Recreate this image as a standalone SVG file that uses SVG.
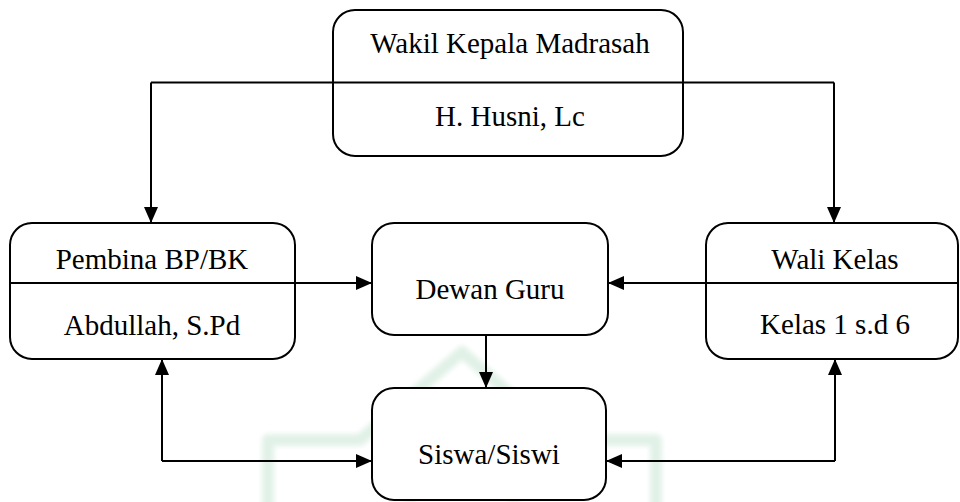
<svg xmlns="http://www.w3.org/2000/svg" width="960" height="502" viewBox="0 0 960 502">
<defs>
<marker id="arr" viewBox="0 0 16 14" refX="16" refY="7" markerWidth="16" markerHeight="14" markerUnits="userSpaceOnUse" orient="auto">
<path d="M0,0 L16,7 L0,14 Z" fill="#000"/>
</marker>
<filter id="soft" x="-10%" y="-10%" width="120%" height="120%">
<feGaussianBlur stdDeviation="2.5"/>
</filter>
</defs>
<style>
.box{fill:#fff;stroke:#000;stroke-width:2}
.ln{fill:none;stroke:#000;stroke-width:2}
text{font-family:'Liberation Serif',serif;font-size:29px;fill:#000;text-anchor:middle}
.wm{fill:none;stroke:#dcefe3;stroke-width:12;stroke-linejoin:round}
</style>
<rect width="960" height="502" fill="#fff"/>
<g id="watermark" filter="url(#soft)" opacity="0.85">
<path class="wm" d="M268,520 L268,440 L360,440 L462,352 L562,440 L656,440 L656,520"/>
<path class="wm" d="M410,520 L410,470 Q420,445 462,425 Q504,445 514,470 L514,520" opacity="0.6"/>
</g>
<g font-family="Liberation Serif, serif">
<g id="n-wakil">
<rect class="box" x="333" y="10" width="350" height="146" rx="22"/>
<text x="510" y="53">Wakil Kepala Madrasah</text>
<text x="510" y="126">H. Husni, Lc</text>
</g>
<g id="n-pembina">
<rect class="box" x="10" y="223" width="285" height="136" rx="22"/>
<text x="152" y="269">Pembina BP/BK</text>
<text x="152" y="335">Abdullah, S.Pd</text>
</g>
<g id="n-dewan">
<rect class="box" x="372" y="223" width="236" height="112" rx="22"/>
<text x="490" y="299">Dewan Guru</text>
</g>
<g id="n-wali">
<rect class="box" x="706" y="223" width="252" height="136" rx="22"/>
<text x="835" y="269">Wali Kelas</text>
<text x="835" y="334">Kelas 1 s.d 6</text>
</g>
<g id="n-siswa">
<rect class="box" x="372" y="388" width="234" height="112" rx="22"/>
<text x="489" y="464">Siswa/Siswi</text>
</g>
</g>
<g id="connectors">
<path class="ln" d="M151,82.5 L834,82.5"/>
<path class="ln" d="M151,82.5 L151,223" marker-end="url(#arr)"/>
<path class="ln" d="M834,82.5 L834,223" marker-end="url(#arr)"/>
<path class="ln" d="M10,283 L372,283" marker-end="url(#arr)"/>
<path class="ln" d="M958,283 L608,283" marker-end="url(#arr)"/>
<path class="ln" d="M486,335 L486,388" marker-end="url(#arr)"/>
<path class="ln" d="M162,461 L162,359" marker-end="url(#arr)"/>
<path class="ln" d="M162,461 L372,461" marker-end="url(#arr)"/>
<path class="ln" d="M835,461 L835,359" marker-end="url(#arr)"/>
<path class="ln" d="M835,461 L606,461" marker-end="url(#arr)"/>
</g>
</svg>
